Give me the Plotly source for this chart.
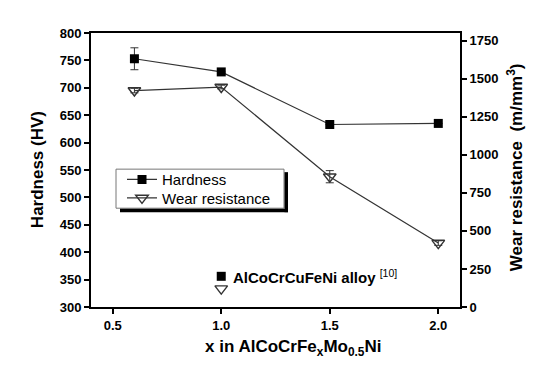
import plotly.graph_objects as go

x_vals = [0.6, 1.0, 1.5, 2.0]
hardness = [753, 729, 633, 635]
hardness_err = [20, 0, 0, 0]
wear = [1422, 1445, 856, 420]
wear_err = [15, 12, 40, 15]
ref_x = [1.0]
ref_hardness = [356]
ref_wear = [121]
x_ticks = [0.5, 1.0, 1.5, 2.0]
x_ticktext = ["0.5", "1.0", "1.5", "2.0"]

FONT = "Liberation Sans, Arial, sans-serif"
OFF = 8  # browser body margin
FW, FH = 550 - OFF, 372 - OFF
L, R, T, B = 91, 460, 33, 306.7  # plot area in window pixels
W, H = R - L, B - T


def px(xp):
    return (xp - L) / W


def py(yp):
    return (B - yp) / H


fig = go.Figure()
fig.add_trace(go.Scatter(
    x=x_vals, y=hardness, name="Hardness", mode="lines+markers",
    line=dict(color="#333333", width=1.2),
    marker=dict(symbol="square", size=9, color="black"),
    error_y=dict(type="data", array=hardness_err, color="#333333", thickness=1, width=4),
    yaxis="y", legend="legend"))
fig.add_trace(go.Scatter(
    x=x_vals, y=wear, name="Wear resistance", mode="lines+markers",
    line=dict(color="#333333", width=1.2),
    marker=dict(symbol="triangle-down-open", size=11, color="#333333", line=dict(width=1.4)),
    error_y=dict(type="data", array=wear_err, color="#333333", thickness=1, width=4),
    yaxis="y2", legend="legend2"))
fig.add_trace(go.Scatter(
    x=ref_x, y=ref_hardness, mode="markers", showlegend=False,
    marker=dict(symbol="square", size=9, color="black"), yaxis="y"))
fig.add_trace(go.Scatter(
    x=ref_x, y=ref_wear, mode="markers", showlegend=False,
    marker=dict(symbol="triangle-down-open", size=11, color="#333333", line=dict(width=1.4)),
    yaxis="y2"))

axis_common = dict(showline=True, linecolor="black", linewidth=2, ticks="outside",
                   ticklen=5, tickwidth=2, tickcolor="black", showgrid=False, zeroline=False,
                   automargin=False,
                   tickfont=dict(family=FONT, size=13, color="black", weight="bold"))

legend_common = dict(xanchor="left", yanchor="middle", bgcolor="rgba(0,0,0,0)",
                     borderwidth=0, font=dict(family=FONT, size=15, color="black"))

fig.update_layout(
    width=FW, height=FH,
    margin=dict(l=L - OFF, r=FW - (R - OFF), t=T - OFF, b=FH - (B - OFF), autoexpand=False),
    paper_bgcolor="white", plot_bgcolor="white",
    font=dict(family=FONT, color="black"),
    xaxis=dict(range=[0.4, 2.1], tickvals=x_ticks, ticktext=x_ticktext, mirror=True,
               **axis_common),
    yaxis=dict(range=[300, 800], dtick=50, **axis_common),
    yaxis2=dict(range=[0, 1800], dtick=250, overlaying="y", side="right", **axis_common),
    legend=dict(x=px(122), y=py(179.5), **legend_common),
    legend2=dict(x=px(122), y=py(198), **legend_common),
    showlegend=True,
)

title_font = dict(family=FONT, size=17, color="black", weight="bold")
fig.add_annotation(x=px(37), y=py(170), xref="paper", yref="paper", text="Hardness (HV)",
                   textangle=-90, showarrow=False, xanchor="center", yanchor="middle",
                   font=title_font)
fig.add_annotation(x=px(515), y=py(167), xref="paper", yref="paper",
                   text="Wear resistance  (m/mm<sup>3</sup>)",
                   textangle=-90, showarrow=False, xanchor="center", yanchor="middle",
                   font=title_font)
fig.add_annotation(x=px(293), y=py(348), xref="paper", yref="paper",
                   text="x in AlCoCrFe<sub>x</sub>Mo<sub>0.5</sub>Ni",
                   showarrow=False, xanchor="center", yanchor="middle", font=title_font)

fig.add_annotation(x=1.045, y=356, xref="x", yref="y", xanchor="left", yanchor="middle",
                   text="<b>AlCoCrCuFeNi alloy</b> <sup>[10]</sup>", showarrow=False,
                   font=dict(family=FONT, size=15, color="black"))

# legend box with drop shadow (shadow as right and bottom strips)
fig.add_shape(type="rect", xref="paper", yref="paper",
              x0=px(116), x1=px(284), y0=py(208), y1=py(169),
              fillcolor="white", line=dict(color="#777777", width=1), layer="above")
fig.add_shape(type="rect", xref="paper", yref="paper",
              x0=px(284.5), x1=px(288), y0=py(212), y1=py(172),
              fillcolor="black", line=dict(width=0), layer="above")
fig.add_shape(type="rect", xref="paper", yref="paper",
              x0=px(120), x1=px(288), y0=py(212), y1=py(208.5),
              fillcolor="black", line=dict(width=0), layer="above")

fig.write_html("out.html")
